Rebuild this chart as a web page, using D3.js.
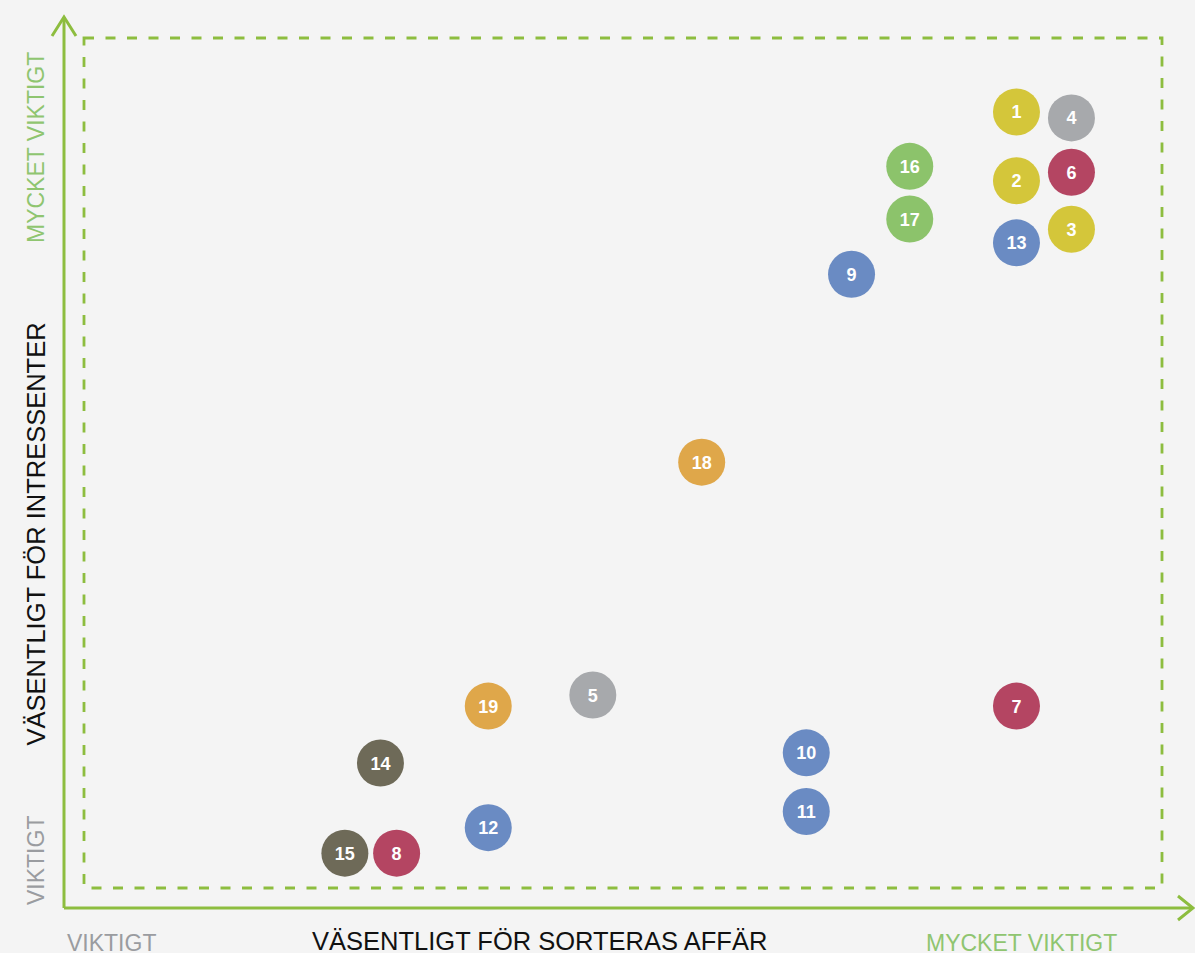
<!DOCTYPE html>
<html>
<head>
<meta charset="utf-8">
<script src="https://cdn.jsdelivr.net/npm/d3@7"></script>
<style>
  html, body { margin: 0; padding: 0; background: #f4f4f4; }
  svg { display: block; font-family: "Liberation Sans", Arial, sans-serif; }
</style>
</head>
<body>
<div id="chart"></div>
<script>
// svg params
var svgWidth = 1195;
var svgHeight = 953;

// data (0-100 on both axes)
var ids    = [1, 2, 3, 4, 5, 6, 7, 8, 9, 10, 11, 12, 13, 14, 15, 16, 17, 18, 19];
var xVals  = [86.5, 86.5, 91.6, 91.6, 47.2, 91.6, 86.5, 29.0, 71.2, 67.0, 67.0, 37.5, 86.5, 27.5, 24.2, 76.6, 76.6, 57.3, 37.5];
var yVals  = [91.3, 83.2, 77.5, 90.6, 22.7, 84.2, 21.4, 4.1, 72.2, 15.9, 9.0, 7.1, 75.9, 14.7, 4.1, 84.9, 78.7, 50.1, 21.4];
var groups = ["gul", "gul", "gul", "gra", "gra", "rod", "rod", "rod", "bla", "bla", "bla", "bla", "bla", "oliv", "oliv", "gron", "gron", "orange", "orange"];

var groupNames  = ["gul", "gra", "rod", "bla", "gron", "orange", "oliv"];
var groupColors = ["#d4c63a", "#a7a9ac", "#b44562", "#6a8bc3", "#8cc36b", "#dfa74a", "#6e6a58"];

var xLabelLow = "VIKTIGT";
var xLabelHigh = "MYCKET VIKTIGT";
var xTitle = "VÄSENTLIGT FÖR SORTERAS AFFÄR";
var yLabelLow = "VIKTIGT";
var yLabelHigh = "MYCKET VIKTIGT";
var yTitle = "VÄSENTLIGT FÖR INTRESSENTER";

var data = ids.map(function(id, i) {
  return { id: id, x: xVals[i], y: yVals[i], group: groups[i] };
});

// dashed frame = data area
var box = { left: 84, right: 1162, top: 38, bottom: 888 };
var axisX = 64, axisY = 908;

var green = "#8dbd3f";
var lightGreen = "#8fc570";
var gray = "#9a9ca0";

var svg = d3.select("#chart").append("svg")
  .attr("width", svgWidth)
  .attr("height", svgHeight);

svg.append("rect")
  .attr("width", svgWidth)
  .attr("height", svgHeight)
  .attr("fill", "#f4f4f4");

var xScale = d3.scaleLinear().domain([0, 100]).range([box.left, box.right]);
var yScale = d3.scaleLinear().domain([0, 100]).range([box.bottom, box.top]);
var colorScale = d3.scaleOrdinal().domain(groupNames).range(groupColors);

// dashed frame
svg.append("rect")
  .attr("x", xScale(0))
  .attr("y", yScale(100))
  .attr("width", xScale(100) - xScale(0))
  .attr("height", yScale(0) - yScale(100))
  .attr("fill", "none")
  .attr("stroke", green)
  .attr("stroke-width", 2.8)
  .attr("stroke-dasharray", "10,11.5");

// axes with arrows
var axes = svg.append("g")
  .attr("stroke", green)
  .attr("stroke-width", 3)
  .attr("fill", "none");

axes.append("path").attr("d", `M${axisX},${axisY} V17`);
axes.append("path").attr("d", `M${axisX - 12},36 L${axisX},17 L${axisX + 12},36`);
axes.append("path").attr("d", `M${axisX},${axisY} H1193`);
axes.append("path").attr("d", `M1178,${axisY - 12} L1193,${axisY} L1178,${axisY + 12}`);

// circles
var pts = svg.selectAll("g.pt")
  .data(data)
  .enter()
  .append("g")
  .attr("class", "pt")
  .attr("transform", d => `translate(${xScale(d.x)}, ${yScale(d.y)})`);

pts.append("circle")
  .attr("r", 23.5)
  .attr("fill", d => colorScale(d.group));

pts.append("text")
  .attr("text-anchor", "middle")
  .attr("dy", "0.36em")
  .attr("fill", "#ffffff")
  .attr("font-weight", "bold")
  .attr("font-size", 18)
  .text(d => d.id);

// y axis labels (rotated)
svg.append("text")
  .attr("transform", "translate(44, 243) rotate(-90)")
  .attr("font-size", 23)
  .attr("fill", lightGreen)
  .text(yLabelHigh);

svg.append("text")
  .attr("transform", "translate(44, 905) rotate(-90)")
  .attr("font-size", 23)
  .attr("fill", gray)
  .text(yLabelLow);

svg.append("text")
  .attr("transform", "translate(45, 534) rotate(-90)")
  .attr("text-anchor", "middle")
  .attr("font-size", 25.5)
  .attr("fill", "#111111")
  .text(yTitle);

// x axis labels
svg.append("text")
  .attr("x", 67)
  .attr("y", 951)
  .attr("font-size", 23)
  .attr("fill", gray)
  .text(xLabelLow);

svg.append("text")
  .attr("x", 312)
  .attr("y", 950)
  .attr("font-size", 25.5)
  .attr("fill", "#111111")
  .text(xTitle);

svg.append("text")
  .attr("x", 926)
  .attr("y", 951)
  .attr("font-size", 23)
  .attr("fill", lightGreen)
  .text(xLabelHigh);
</script>
</body>
</html>
